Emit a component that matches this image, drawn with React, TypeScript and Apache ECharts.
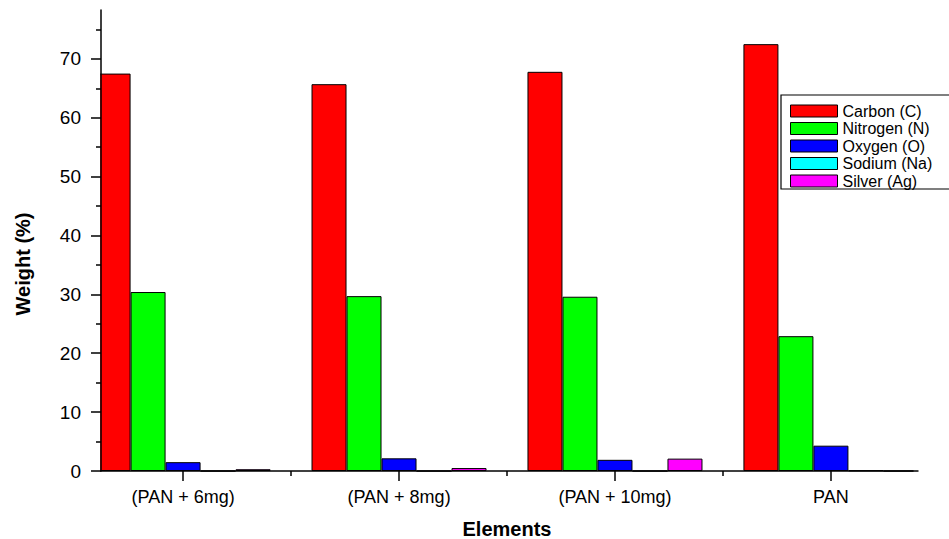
import React, { useEffect, useRef } from "react";
import * as echarts from "echarts";

const categories = ["(PAN + 6mg)", "(PAN + 8mg)", "(PAN + 10mg)", "PAN"];
const seriesNames = ["Carbon (C)", "Nitrogen (N)", "Oxygen (O)", "Sodium (Na)", "Silver (Ag)"];
const carbon = [67.5, 65.7, 67.8, 72.5];
const nitrogen = [30.4, 29.7, 29.6, 22.9];
const oxygen = [1.5, 2.15, 1.9, 4.3];
const sodium = [0, 0, 0, 0.1];
const silver = [0.3, 0.5, 2.1, 0];
const colors = ["#FF0000", "#00FF00", "#0000FF", "#00FFFF", "#FF00FF"];
const yMajorTicks = [0, 10, 20, 30, 40, 50, 60, 70];
const yMinorTicks = [5, 15, 25, 35, 45, 55, 65, 75];

const FONT = "'Liberation Sans', Arial, sans-serif";

export default function App() {
  const ref = useRef<HTMLDivElement>(null);
  useEffect(() => {
    if (!ref.current) return;
    const chart = echarts.init(ref.current, null, { renderer: "svg" });
    const positions = categories.map((_, i) => i + 1);
    const boundaries = positions.slice(0, -1).map((p) => p + 0.5);
    const xMin = 0.62;
    const xMax = 4.38;
    const gridLeft = 101;
    const gridBottom = 68;
    const chartH = 539;
    const allValues = [carbon, nitrogen, oxygen, sodium, silver];
    const axisLineStyle = { color: "#000", width: 1.5 };
    chart.setOption({
      animation: false,
      backgroundColor: "#fff",
      grid: {
        left: gridLeft,
        top: 10,
        right: 36,
        bottom: gridBottom,
        containLabel: false,
        outerBoundsMode: "none",
      },
      legend: {
        data: seriesNames.map((name, i) => ({
          name,
          itemStyle: { color: colors[i], borderColor: "#000", borderWidth: 1 },
        })),
        orient: "vertical",
        left: 781,
        top: 95,
        itemWidth: 47,
        itemHeight: 12,
        itemGap: 1.5,
        padding: [8, 20, 0, 9],
        borderColor: "#000",
        borderWidth: 1.2,
        icon: "rect",
        itemStyle: { borderColor: "#000", borderWidth: 1 },
        textStyle: { fontFamily: FONT, fontSize: 16, color: "#000" },
      },
      xAxis: [
        {
          type: "value",
          min: xMin,
          max: xMax,
          position: "bottom",
          name: "Elements",
          nameLocation: "middle",
          nameGap: 48,
          nameMoveOverlap: false,
          nameTextStyle: { fontFamily: FONT, fontSize: 20, fontWeight: "bold", color: "#000" },
          axisLine: { show: true, onZero: false, lineStyle: axisLineStyle },
          axisTick: { show: true, length: 10, customValues: positions, lineStyle: axisLineStyle },
          axisLabel: {
            customValues: positions,
            margin: 17,
            fontFamily: FONT,
            fontSize: 18,
            color: "#000",
            formatter: (v: number) => categories[Math.round(v) - 1] ?? "",
          },
          splitLine: { show: false },
        },
        {
          type: "value",
          min: xMin,
          max: xMax,
          position: "bottom",
          axisLine: { show: false },
          axisTick: { show: true, length: 5, customValues: boundaries, lineStyle: axisLineStyle },
          axisLabel: { show: false },
          splitLine: { show: false },
        },
      ],
      yAxis: [
        {
          type: "value",
          min: 0,
          max: 78.3,
          position: "left",
          z: 100,
          axisLine: { show: true, onZero: false, lineStyle: axisLineStyle },
          axisTick: { show: true, length: 10, customValues: yMajorTicks, lineStyle: axisLineStyle },
          axisLabel: {
            customValues: yMajorTicks,
            margin: 20,
            fontFamily: FONT,
            fontSize: 19,
            color: "#000",
          },
          splitLine: { show: false },
        },
        {
          type: "value",
          min: 0,
          max: 78.3,
          position: "left",
          z: 100,
          axisLine: { show: false },
          axisTick: { show: true, length: 5, customValues: yMinorTicks, lineStyle: axisLineStyle },
          axisLabel: { show: false },
          splitLine: { show: false },
        },
      ],
      graphic: {
        elements: [
          {
            type: "rect",
            z: 50,
            left: 0,
            top: 0,
            shape: { x: 0, y: 0, width: gridLeft - 0.8, height: chartH - gridBottom },
            style: { fill: "#fff" },
            silent: true,
          },
          {
            type: "text",
            z: 110,
            x: 23,
            y: 264,
            rotation: Math.PI / 2,
            style: {
              text: "Weight (%)",
              fontFamily: FONT,
              fontSize: 20,
              fontWeight: "bold",
              fill: "#000",
              align: "center",
              verticalAlign: "middle",
            },
          },
        ],
      },
      series: seriesNames.map((name, si) => ({
        name,
        type: "bar",
        xAxisIndex: 0,
        yAxisIndex: 0,
        barWidth: 35,
        barGap: "0%",
        itemStyle: { color: colors[si], borderColor: "#000", borderWidth: 1 },
        data: allValues[si].map((v, i) => [positions[i], v]),
      })),
    });
    return () => chart.dispose();
  }, []);
  return (
    <div
      ref={ref}
      style={{ position: "fixed", left: 0, top: 0, width: 949, height: 539, background: "#fff" }}
    />
  );
}
